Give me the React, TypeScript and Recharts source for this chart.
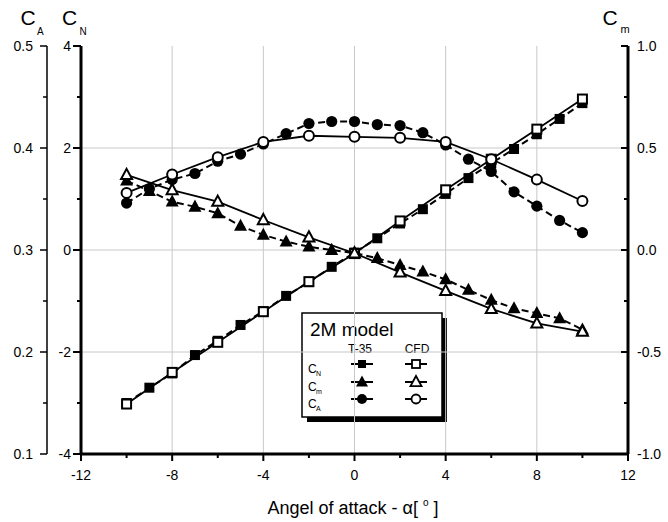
import React from 'react';
import { LineChart, Line, XAxis, YAxis, ReferenceLine, Customized } from 'recharts';

// angles of attack
const alphaT35 = [-10, -9, -8, -7, -6, -5, -4, -3, -2, -1, 0, 1, 2, 3, 4, 5, 6, 7, 8, 9, 10];
const alphaCFD = [-10, -8, -6, -4, -2, 0, 2, 4, 6, 8, 10];

// normal force coefficient
const cnT35 = [-3.0, -2.7, -2.42, -2.06, -1.78, -1.47, -1.2, -0.9, -0.63, -0.33, -0.05, 0.23, 0.52, 0.8, 1.1, 1.41, 1.7, 1.98, 2.27, 2.57, 2.88];
const cnCFD = [-3.02, -2.4, -1.81, -1.21, -0.62, -0.07, 0.57, 1.18, 1.78, 2.37, 2.96];

// pitching moment coefficient
const cmT35 = [0.34, 0.289, 0.237, 0.212, 0.18, 0.118, 0.074, 0.041, 0.016, 0.0, -0.015, -0.04, -0.074, -0.106, -0.144, -0.196, -0.245, -0.286, -0.31, -0.335, -0.39];
const cmCFD = [0.368, 0.294, 0.237, 0.147, 0.062, -0.016, -0.11, -0.2, -0.289, -0.36, -0.4];

// axial force coefficient
const caT35 = [0.346, 0.36, 0.369, 0.375, 0.387, 0.394, 0.404, 0.414, 0.424, 0.426, 0.426, 0.423, 0.422, 0.415, 0.403, 0.389, 0.377, 0.357, 0.343, 0.329, 0.317];
const caCFD = [0.356, 0.374, 0.391, 0.406, 0.412, 0.411, 0.41, 0.406, 0.389, 0.369, 0.348];

const xTicks = [-12, -10, -8, -6, -4, -2, 0, 2, 4, 6, 8, 10, 12];
const xGrid = [-8, -4, 0, 4, 8];
const cnTicks = [-4, -3, -2, -1, 0, 1, 2, 3, 4];
const cnGrid = [-2, 0, 2];
const caTicks = [0.1, 0.15, 0.2, 0.25, 0.3, 0.35, 0.4, 0.45, 0.5];
const cmTicks = [-1, -0.75, -0.5, -0.25, 0, 0.25, 0.5, 0.75, 1];

const FONT = 'Arial, "Liberation Sans", sans-serif';

// axis ids (CN must sit next to the plot, CA outside it)
const CN = 'a';
const CA = 'b';
const CM = 'c';

const pts = (xs: number[], ys: number[]) => xs.map((a, i) => ({ a, v: ys[i] }));

// markers
const FilledSquare = (p: any) => (
  <rect key={p.index} x={p.cx - 5} y={p.cy - 5} width={10} height={10} fill="#000" />
);
const OpenSquare = (p: any) => (
  <rect key={p.index} x={p.cx - 4.5} y={p.cy - 4.5} width={9} height={9} fill="#fff" stroke="#000" strokeWidth={2} />
);
const triPoints = (cx: number, cy: number, s: number) =>
  `${cx},${cy - s * 1.1} ${cx + s},${cy + s * 0.75} ${cx - s},${cy + s * 0.75}`;
const FilledTri = (p: any) => <polygon key={p.index} points={triPoints(p.cx, p.cy, 6.5)} fill="#000" />;
const OpenTri = (p: any) => (
  <polygon key={p.index} points={triPoints(p.cx, p.cy, 5.5)} fill="#fff" stroke="#000" strokeWidth={2} strokeLinejoin="miter" />
);
const FilledCircle = (p: any) => <circle key={p.index} cx={p.cx} cy={p.cy} r={5.6} fill="#000" />;
const OpenCircle = (p: any) => <circle key={p.index} cx={p.cx} cy={p.cy} r={5} fill="#fff" stroke="#000" strokeWidth={2} />;

const isMajor = (v: number, step: number) => Math.abs(v / step - Math.round(v / step)) < 1e-6;

const XTick = (p: any) => {
  const v = p.payload.value;
  const major = isMajor(v, 4);
  const axisY = p.y - 16;
  return (
    <g>
      <line x1={p.x} x2={p.x} y1={axisY} y2={axisY + (major ? 7 : 4)} stroke="#000" strokeWidth={2} />
      {major && (
        <text x={p.x} y={p.y} dy="0.72em" textAnchor="middle" fontSize={14} fontFamily={FONT} fill="#000">
          {v}
        </text>
      )}
    </g>
  );
};

const CnTick = (p: any) => {
  const v = p.payload.value;
  const major = isMajor(v, 2);
  const axisX = p.x + 10;
  return (
    <g>
      <line x1={axisX} x2={axisX - (major ? 8 : 4)} y1={p.y} y2={p.y} stroke="#000" strokeWidth={2} />
      {major && (
        <text x={p.x} y={p.y} dy="0.36em" textAnchor="end" fontSize={14} fontFamily={FONT} fill="#000">
          {v}
        </text>
      )}
    </g>
  );
};

const CaTick = (p: any) => {
  const v = p.payload.value;
  const major = isMajor(v, 0.1);
  const axisX = p.x + 14;
  return (
    <g>
      <line x1={axisX} x2={axisX - (major ? 7 : 4)} y1={p.y} y2={p.y} stroke="#000" strokeWidth={1.5} />
      {major && (
        <text x={p.x} y={p.y} dy="0.36em" textAnchor="end" fontSize={14} fontFamily={FONT} fill="#000">
          {v.toFixed(1)}
        </text>
      )}
    </g>
  );
};

const CmTick = (p: any) => {
  const v = p.payload.value;
  const major = isMajor(v, 0.5);
  const axisX = p.x - 9;
  return (
    <g>
      <line x1={axisX} x2={axisX - (major ? 7 : 4)} y1={p.y} y2={p.y} stroke="#000" strokeWidth={2} />
      {major && (
        <text x={p.x} y={p.y} dy="0.36em" textAnchor="start" fontSize={14} fontFamily={FONT} fill="#000">
          {v.toFixed(1)}
        </text>
      )}
    </g>
  );
};

const legendRows = [
  { sub: 'N', kind: 'square', y: 364 },
  { sub: 'm', kind: 'tri', y: 382 },
  { sub: 'A', kind: 'circle', y: 399 },
];

const LegendMarker = ({ kind, filled, x, y }: any) => {
  const fill = filled ? '#000' : '#fff';
  const sw = filled ? 0 : 1.8;
  let m;
  if (kind === 'square') m = <rect x={x - 4} y={y - 4} width={8} height={8} fill={fill} stroke="#000" strokeWidth={sw} />;
  else if (kind === 'tri') m = <polygon points={triPoints(x, y, filled ? 6 : 5.5)} fill={fill} stroke="#000" strokeWidth={sw} />;
  else m = <circle cx={x} cy={y} r={filled ? 5 : 4.5} fill={fill} stroke="#000" strokeWidth={sw} />;
  return (
    <g>
      <line x1={x - 11} x2={x + 11} y1={y} y2={y} stroke="#000" strokeWidth={2} />
      {m}
    </g>
  );
};

const Overlay = () => (
  <g fontFamily={FONT} fill="#000">
    {/* axis titles */}
    <text x={20.5} y={25} fontSize={21}>C</text>
    <text x={37} y={35} fontSize={10}>A</text>
    <text x={62} y={25} fontSize={21}>C</text>
    <text x={79.5} y={35} fontSize={10}>N</text>
    <text x={602.5} y={25} fontSize={21}>C</text>
    <text x={620.5} y={33} fontSize={11}>m</text>
    <text x={353} y={514} fontSize={18} textAnchor="middle">
      Angel of attack - α[ <tspan fontSize={10} dy={-8}>o</tspan>
      <tspan dy={8}> ]</tspan>
    </text>

    {/* legend box */}
    <rect x={307} y={318} width={140} height={104} fill="#000" />
    <rect x={302} y={313} width={140} height={104} fill="#fff" stroke="#000" strokeWidth={1.5} />
    <text x={310} y={336} fontSize={19}>2M model</text>
    <text x={360} y={353} fontSize={12} textAnchor="middle">T-35</text>
    <text x={417} y={353} fontSize={12} textAnchor="middle">CFD</text>
    {legendRows.map((r) => (
      <g key={r.sub}>
        <text x={308} y={r.y + 8.5} fontSize={12}>C</text>
        <text x={316} y={r.y + 12} fontSize={7}>{r.sub}</text>
        <LegendMarker kind={r.kind} filled x={362} y={r.y} />
        <LegendMarker kind={r.kind} filled={false} x={416} y={r.y} />
      </g>
    ))}
  </g>
);

export default function App() {
  return (
    <div style={{ position: 'absolute', left: 0, top: 0, background: '#fff' }}>
      <LineChart width={668} height={522} margin={{ top: 46, right: 0, bottom: 0, left: 0 }}>
        <XAxis
          type="number"
          dataKey="a"
          domain={[-12, 12]}
          ticks={xTicks}
          interval={0}
          height={68}
          tickSize={6}
          tickMargin={10}
          tickLine={false}
          tick={<XTick />}
          axisLine={{ stroke: '#000', strokeWidth: 3 }}
          allowDataOverflow
        />
        {/* top frame line */}
        <XAxis
          xAxisId="top"
          orientation="top"
          type="number"
          domain={[-12, 12]}
          height={0}
          tick={false}
          tickLine={false}
          axisLine={{ stroke: '#000', strokeWidth: 3 }}
        />
        <YAxis
          yAxisId={CN}
          orientation="left"
          domain={[-4, 4]}
          ticks={cnTicks}
          interval={0}
          width={34}
          tickSize={7}
          tickMargin={3}
          tickLine={false}
          tick={<CnTick />}
          axisLine={{ stroke: '#000', strokeWidth: 3 }}
          allowDataOverflow
        />
        <YAxis
          yAxisId={CA}
          orientation="left"
          domain={[0.1, 0.5]}
          ticks={caTicks}
          interval={0}
          width={47}
          tickSize={8}
          tickMargin={6}
          tickLine={false}
          tick={<CaTick />}
          axisLine={{ stroke: '#000', strokeWidth: 1.5 }}
          allowDataOverflow
        />
        <YAxis
          yAxisId={CM}
          orientation="right"
          domain={[-1, 1]}
          ticks={cmTicks}
          interval={0}
          width={40}
          tickSize={5}
          tickMargin={4}
          tickLine={false}
          tick={<CmTick />}
          axisLine={{ stroke: '#000', strokeWidth: 3 }}
          allowDataOverflow
        />

        {xGrid.map((x) => (
          <ReferenceLine key={'gx' + x} yAxisId={CN} x={x} stroke="#c8c8c8" strokeWidth={1} />
        ))}
        {cnGrid.map((y) => (
          <ReferenceLine key={'gy' + y} yAxisId={CN} y={y} stroke="#c8c8c8" strokeWidth={1} />
        ))}

        <Line yAxisId={CN} data={pts(alphaT35, cnT35)} dataKey="v" stroke="#000" strokeWidth={2} strokeDasharray="7 4" dot={FilledSquare} isAnimationActive={false} />
        <Line yAxisId={CM} data={pts(alphaT35, cmT35)} dataKey="v" stroke="#000" strokeWidth={2} strokeDasharray="7 4" dot={FilledTri} isAnimationActive={false} />
        <Line yAxisId={CA} data={pts(alphaT35, caT35)} dataKey="v" stroke="#000" strokeWidth={2} strokeDasharray="7 4" dot={FilledCircle} isAnimationActive={false} />
        <Line yAxisId={CN} data={pts(alphaCFD, cnCFD)} dataKey="v" stroke="#000" strokeWidth={1.8} dot={OpenSquare} isAnimationActive={false} />
        <Line yAxisId={CM} data={pts(alphaCFD, cmCFD)} dataKey="v" stroke="#000" strokeWidth={1.8} dot={OpenTri} isAnimationActive={false} />
        <Line yAxisId={CA} data={pts(alphaCFD, caCFD)} dataKey="v" stroke="#000" strokeWidth={1.8} dot={OpenCircle} isAnimationActive={false} />

        <Customized component={Overlay} />
      </LineChart>
    </div>
  );
}
